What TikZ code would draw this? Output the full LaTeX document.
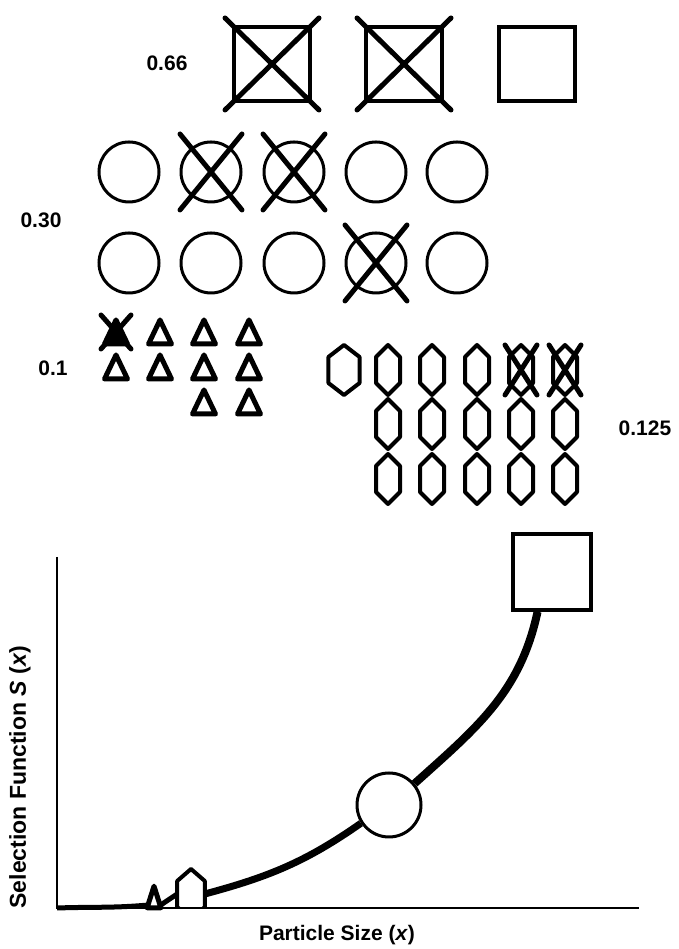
\documentclass[tikz,border=0pt]{standalone}
\usepackage{fontspec}
\setmainfont{Liberation Sans}
\usepackage{tikz}

\tikzset{
  box/.style={draw, line width=3.5pt, minimum width=76pt, minimum height=74pt, inner sep=0pt},
  ball/.style={draw, circle, line width=3pt, minimum size=60pt, inner sep=0pt},
  xline/.style={line width=5pt, line cap=round},
  rim/.style={line width=4pt, line join=round},
  lbl/.style={font=\bfseries\fontsize{21}{24}\selectfont},
  sline/.style={line width=7pt},
  pics/hexa/.style={code={
    \draw[rim] (0,25) -- (12,13) -- (12,-13) -- (0,-25) -- (-12,-13) -- (-12,13) -- cycle;
    \coordinate (-c) at (0,0);
    \coordinate (-w) at (-12,0);
    \coordinate (-e) at (12,0);
  }},
  pics/tri/.style={code={
    \draw[rim, line width=5pt] (0,12) -- (11.5,-12) -- (-11.5,-12) -- cycle;
    \coordinate (-c) at (0,0);
    \coordinate (-w) at (-11,-9);
    \coordinate (-e) at (11,-9);
  }},
  pics/blot/.style={code={
    \filldraw[rim, line width=5pt] (0,12) -- (11.5,-12) -- (-11.5,-12) -- cycle;
    \coordinate (-c) at (0,0);
  }},
}

% X over a shape
\newcommand{\crossit}[3]{%
  \draw[xline] ([shift={(-#2,#3)}]#1.center) -- ([shift={(#2,-#3)}]#1.center);
  \draw[xline] ([shift={(-#2,-#3)}]#1.center) -- ([shift={(#2,#3)}]#1.center);}

\begin{document}
\begin{tikzpicture}[x=1pt, y=1pt]
    \useasboundingbox (0,0) rectangle (678,949);

    % 0.66 squares
    \node[lbl] (l66) at (167,886) {0.66};
    \foreach \x/\n in {272/1,404/2,537/3}
        \node[box] (sq\n) at (\x,885) {};
    \crossit{sq1}{47}{46}
    \crossit{sq2}{47}{46}

    % 0.30 circles
    \node[lbl] (l30) at (41,729) {0.30};
    \foreach \x/\n in {129/1,211/2,294/3,376/4,457/5} {
        \node[ball] (ca\n) at (\x,777) {};
        \node[ball] (cb\n) at (\x,686) {};
    }
    \crossit{ca2}{31}{38}
    \crossit{ca3}{31}{38}
    \crossit{cb4}{31}{38}

    % 0.1 triangles
    \node[lbl] (l1) at (53,581) {0.1};
    \pic (tx) at (116,617) {blot};
    \crossit{tx-c}{15}{17}
    \foreach \x in {160,204,249}
        \pic (ta\x) at (\x,617) {tri};
    \foreach \x in {116,160,204,249}
        \pic (tb\x) at (\x,582) {tri};
    \foreach \x in {204,249}
        \pic (tc\x) at (\x,547) {tri};

    % 0.125 hexagons
    \node[lbl] (l125) at (645,521) {0.125};
    \pic[xscale=1.3] (ha1) at (344,579) {hexa};
    \foreach \x/\n in {388/2,432/3,477/4,521/5,565/6}
        \pic (ha\n) at (\x,579) {hexa};
    \begin{scope}[xline, line width=6pt]
        \crossit{ha5-c}{16}{25}
        \crossit{ha6-c}{16}{25}
    \end{scope}
    \foreach \x/\n in {388/1,432/2,477/3,521/4,565/5} {
        \pic (hb\n) at (\x,525) {hexa};
        \pic (hc\n) at (\x,470) {hexa};
    }

    % selection function plot
    \coordinate (ytop) at (57,392);
    \coordinate (orig) at (57,41);
    \coordinate (xend) at (639,41);
    \begin{scope}
        \clip (0,41) rectangle (678,949);
        \pic[xscale=1.15] (gh) at (191,55) {hexa};
    \end{scope}
    \pic[xscale=0.6, yscale=0.9] (gt) at (154,52) {tri};
    \node[ball, minimum size=64pt] (gc) at (389,144) {};
    \node[box, minimum width=78pt, minimum height=76pt] (gsq) at (552,377) {};

    \draw[sline, line width=5pt] (orig) to[out=2,in=185] (gt-w);
    \draw[sline, line width=5pt] (gt-e) -- (gh-w);
    \draw[sline] (gh-e) to[out=15,in=215] (gc.213);
    \draw[sline, line width=8pt] (gc.40) to[out=42,in=258] (gsq.250);
    \draw[line width=2pt] (ytop) -- (orig) -- (xend);

    \node[font=\bfseries\fontsize{21}{24}\selectfont] (xlab) at (337,14) {Particle Size (\textit{x})};
    \node[font=\bfseries\fontsize{23}{26}\selectfont, rotate=90] (ylab) at (20,172)
        {Selection Function \textit{S} (\textit{x})};
\end{tikzpicture}
\end{document}
